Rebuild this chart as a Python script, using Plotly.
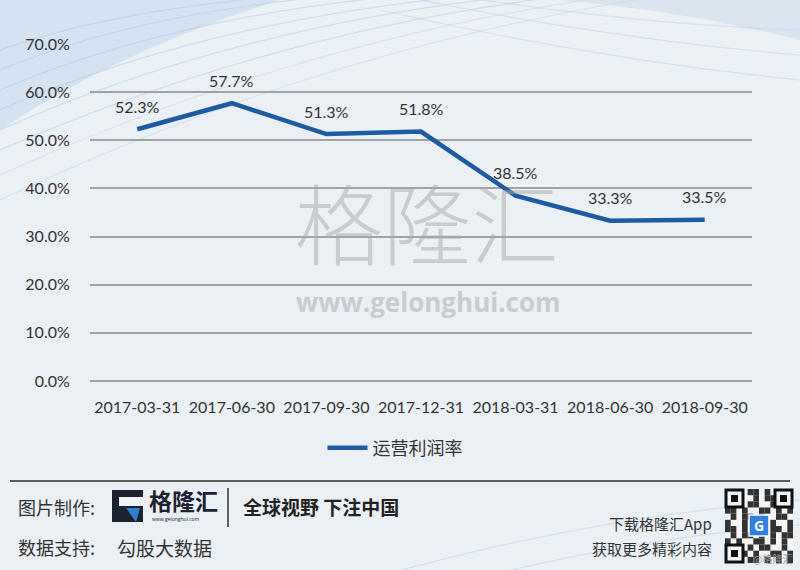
import plotly.graph_objects as go

categories = ["2017-03-31", "2017-06-30", "2017-09-30", "2017-12-31",
              "2018-03-31", "2018-06-30", "2018-09-30"]
margin_values = [52.3, 57.7, 51.3, 51.8, 38.5, 33.3, 33.5]
series_name = "运营利润率"
y_ticks = [0, 10, 20, 30, 40, 50, 60, 70]
y_tick_labels = [f"{v:.1f}%" for v in y_ticks]

W, H = 800, 570
L, R, T, B = 90, 48, 44, 189
PW, PH = W - L - R, H - T - B

def px(x):
    return (x - L) / PW

def py(y):
    return (H - B - y) / PH

CJK = "Noto Sans CJK SC"
NUM = "Lato, Noto Sans CJK SC"
LINE_COLOR = "#1f5ba3"
TXT = "#333333"

fig = go.Figure()
fig.add_trace(go.Scatter(
    x=categories, y=margin_values, mode="lines", name=series_name,
    line=dict(color=LINE_COLOR, width=4.5),
    hoverinfo="skip",
))

annotations = []
for c, v in zip(categories, margin_values):
    annotations.append(dict(x=c, y=v, xref="x", yref="y", text=f"{v:.1f}%",
                            showarrow=False, yshift=23,
                            font=dict(family=NUM, size=16, color=TXT)))

shapes = []
# decorative swooshes in background (top area)
swooshes = [
    (0, 150, 300, 20, 620, -10, "rgba(150,190,230,0.35)"),
    (0, 130, 260, 15, 580, -10, "rgba(150,190,230,0.35)"),
    (0, 110, 230, 10, 540, -10, "rgba(150,190,230,0.35)"),
    (0, 90, 200, 5, 480, -10, "rgba(150,190,230,0.35)"),
    (0, 70, 170, 0, 430, -10, "rgba(150,190,230,0.35)"),
    (0, 50, 140, 0, 380, -10, "rgba(150,190,230,0.35)"),
    (0, 200, 340, 40, 700, -10, "rgba(150,190,230,0.25)"),
    (0, 175, 320, 30, 660, -10, "rgba(150,190,230,0.25)"),
    (380, 10, 600, 60, 800, 80, "rgba(190,210,235,0.5)"),
    (420, 0, 620, 40, 800, 55, "rgba(190,210,235,0.5)"),
    (450, -5, 640, 25, 800, 30, "rgba(190,210,235,0.5)"),
    (300, 600, 550, 520, 800, 500, "rgba(190,210,235,0.5)"),
    (400, 600, 600, 540, 800, 525, "rgba(190,210,235,0.5)"),
]
for x0, y0, cx, cy, x1, y1, col in swooshes:
    shapes.append(dict(type="path", xref="paper", yref="paper", layer="below",
                       path=f"M {px(x0)},{py(y0)} Q {px(cx)},{py(cy)} {px(x1)},{py(y1)}",
                       line=dict(color=col, width=1.2)))
shapes.append(dict(type="path", xref="paper", yref="paper", layer="below",
                   path=f"M {px(0)},{py(0)} L {px(280)},{py(0)} Q {px(120)},{py(50)} {px(0)},{py(130)} Z",
                   fillcolor="rgba(170,200,235,0.35)", line=dict(width=0)))
shapes.append(dict(type="path", xref="paper", yref="paper", layer="below",
                   path=f"M {px(560)},{py(0)} L {px(800)},{py(0)} L {px(800)},{py(40)} Q {px(680)},{py(10)} {px(560)},{py(0)} Z",
                   fillcolor="rgba(200,215,235,0.45)", line=dict(width=0)))

# footer separator line
shapes.append(dict(type="line", xref="paper", yref="paper",
                   x0=px(10), x1=px(790), y0=py(481), y1=py(481),
                   line=dict(color="#2b2b2b", width=1.5)))
# logo
shapes.append(dict(type="rect", xref="paper", yref="paper",
                   x0=px(112), x1=px(143), y0=py(522), y1=py(490),
                   fillcolor="#1c2230", line=dict(width=0)))
shapes.append(dict(type="rect", xref="paper", yref="paper",
                   x0=px(119), x1=px(143), y0=py(506), y1=py(497),
                   fillcolor="#eef2f6", line=dict(width=0)))
shapes.append(dict(type="path", xref="paper", yref="paper",
                   path=f"M {px(126)},{py(508)} L {px(140)},{py(508)} L {px(136)},{py(522)} Z",
                   fillcolor="#2f7fd0", line=dict(width=0)))
# vertical separator
shapes.append(dict(type="line", xref="paper", yref="paper",
                   x0=px(228), x1=px(228), y0=py(488), y1=py(527),
                   line=dict(color="#333333", width=1.5)))
# QR code (decorative)
shapes.append(dict(type="rect", xref="paper", yref="paper",
                   x0=px(725), x1=px(793), y0=py(563), y1=py(489),
                   fillcolor="#f4f4f4", line=dict(width=0)))
qr_rows = [
    "..#.##.#.#..",
    ".##..#.###..",
    "#.#.##..#.#.",
    "##.#..##.#.#",
    ".#.##.#..##.",
    "#..#.##.#..#",
    "##.#.#..##.#",
    ".#.##.#.#.##",
    "#.#..##.#.#.",
    "..#.#.##..#.",
    "..##.#..##.#",
    "..#.##.#.#.#",
]
cell = 68 / 12
for r, row in enumerate(qr_rows):
    for c, ch in enumerate(row):
        if ch == "#":
            x0 = 725 + c * cell
            y0 = 489 + r * cell * (74 / 68)
            shapes.append(dict(type="rect", xref="paper", yref="paper",
                               x0=px(x0), x1=px(x0 + cell), y0=py(y0 + cell * 74 / 68), y1=py(y0),
                               fillcolor="#333333", line=dict(width=0)))
for qx, qy in [(726, 490), (775, 490), (726, 545)]:
    shapes.append(dict(type="rect", xref="paper", yref="paper",
                       x0=px(qx), x1=px(qx + 17), y0=py(qy + 17), y1=py(qy),
                       fillcolor="#f4f4f4", line=dict(color="#111111", width=3)))
    shapes.append(dict(type="rect", xref="paper", yref="paper",
                       x0=px(qx + 5), x1=px(qx + 12), y0=py(qy + 12), y1=py(qy + 5),
                       fillcolor="#111111", line=dict(width=0)))
shapes.append(dict(type="rect", xref="paper", yref="paper",
                   x0=px(749), x1=px(769), y0=py(536), y1=py(515),
                   fillcolor="#2f80e0", line=dict(color="#ffffff", width=1.5)))

def txt(x, y, s, size, xanchor="left", color=TXT, family=CJK, weight=None, opacity=1):
    f = dict(family=family, size=size, color=color)
    if weight:
        f["weight"] = weight
    annotations.append(dict(x=px(x), y=py(y), xref="paper", yref="paper", text=s,
                            showarrow=False, xanchor=xanchor, yanchor="middle",
                            font=f, opacity=opacity))

# watermark
txt(427, 219, "格隆汇", 88, xanchor="center", color="#a8a8a8", weight=300, opacity=0.5)
txt(428, 302, "www.gelonghui.com", 26, xanchor="center", color="#a8a8a8",
    family="Open Sans", weight=700, opacity=0.5)

# footer texts
txt(16, 507, "图片制作:", 18)
txt(147, 500, "格隆汇", 23, weight=700, color="#1c2230")
txt(150, 519, "www.gelonghui.com", 5, family="Open Sans", color="#1c2230")
txt(241, 506, "全球视野 下注中国", 19, weight=700, color="#222222")
txt(16, 547, "数据支持:", 18)
txt(115, 547, "勾股大数据", 19)
txt(714, 523, "下载格隆汇App", 15, xanchor="right")
txt(714, 548, "获取更多精彩内容", 15, xanchor="right")
annotations.append(dict(x=px(759), y=py(525.5), xref="paper", yref="paper", text="G",
                        showarrow=False, xanchor="center", yanchor="middle",
                        font=dict(family="Open Sans", size=14, color="#ffffff", weight=700)))
txt(772, 558, "@格隆汇", 10, xanchor="center", color="#8d949c")

fig.update_layout(
    width=W, height=H,
    margin=dict(l=L, r=R, t=T, b=B),
    paper_bgcolor="#ebf0f5",
    plot_bgcolor="rgba(0,0,0,0)",
    showlegend=True,
    legend=dict(orientation="h", x=px(395), y=py(448), xanchor="center", yanchor="middle",
                font=dict(family=CJK, size=18, color=TXT), bgcolor="rgba(0,0,0,0)",
                itemwidth=40),
    xaxis=dict(type="category", categoryorder="array", categoryarray=categories,
               range=[-0.5, len(categories) - 0.5],
               showgrid=False, zeroline=False, showline=False,
               ticks="outside", ticklen=12, tickcolor="rgba(0,0,0,0)",
               tickfont=dict(family=NUM, size=16, color=TXT), fixedrange=True),
    yaxis=dict(range=[0, 70], tickvals=y_ticks, ticktext=y_tick_labels,
               showgrid=True, gridcolor="#a0a4a8", gridwidth=1.5,
               zeroline=True, zerolinecolor="#a0a4a8", zerolinewidth=1.5,
               showline=False, ticks="outside", ticklen=16, tickcolor="rgba(0,0,0,0)",
               tickfont=dict(family=NUM, size=16, color=TXT), fixedrange=True),
    annotations=annotations,
    shapes=shapes,
)

fig.write_html("out.html")
